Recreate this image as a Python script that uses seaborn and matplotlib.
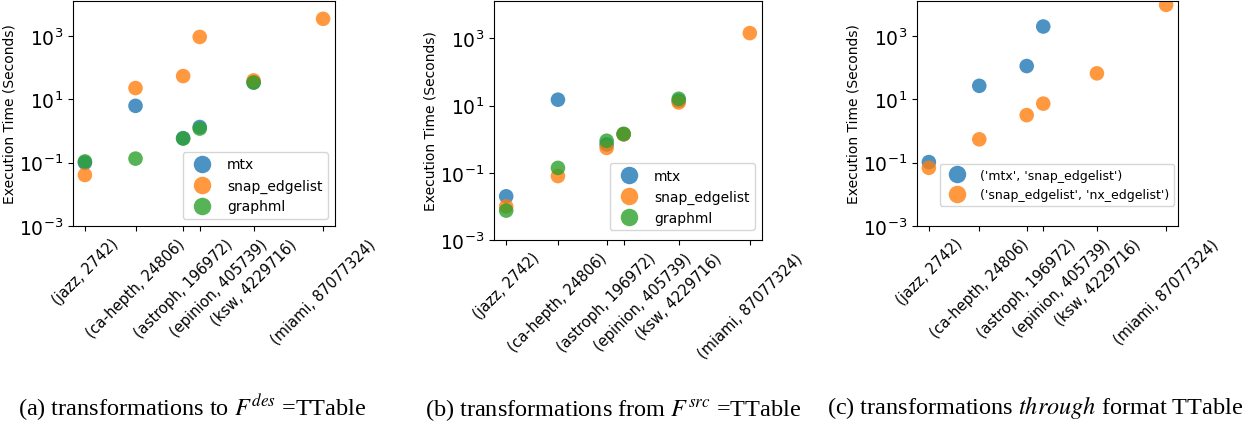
import numpy as np
import matplotlib
matplotlib.use("Agg")
import matplotlib.pyplot as plt
import matplotlib.transforms as mtransforms
from matplotlib.ticker import NullLocator
import seaborn as sns
import pandas as pd

# datasets (name, number of edges) on the x axis
graph_names = ["jazz", "ca-hepth", "astroph", "epinion", "ksw", "miami"]
graph_edges = [2742, 24806, 196972, 405739, 4229716, 87077324]
tick_labels = [f"({n}, {e})" for n, e in zip(graph_names, graph_edges)]

nan = np.nan
# (a) transformations to TTable
a_mtx = [0.10, 6.3, 0.60, 1.35, 35, nan]
a_snap_edgelist = [0.041, 23, 55, 950, 40, 3550]
a_graphml = [0.11, 0.135, 0.58, 1.2, 34, nan]

# (b) transformations from TTable
b_mtx = [0.020, 15, 0.70, 1.4, 14, nan]
b_snap_edgelist = [0.010, 0.080, 0.55, 1.4, 12.4, 1440]
b_graphml = [0.0075, 0.14, 0.90, 1.45, 16, nan]

# (c) transformations through TTable
c_mtx_snap = [0.105, 27, 114, 2030, nan, nan]
c_snap_nx = [0.069, 0.55, 3.2, 7.4, 67, 9800]

c_labels = ["('mtx', 'snap_edgelist')", "('snap_edgelist', 'nx_edgelist')"]


def long_frame(series):
    rows = []
    for label, vals in series.items():
        for e, v in zip(graph_edges, vals):
            rows.append({"edges": e, "time": v, "format": label})
    return pd.DataFrame(rows).dropna()


W, H = 1243, 427
fig = plt.figure(figsize=(W / 100, H / 100), dpi=100)


def add_panel(left, right, top, bottom, series, legend_kw):
    ax = fig.add_axes([left / W, (H - bottom) / H, (right - left) / W, (bottom - top) / H])
    df = long_frame(series)
    sns.scatterplot(data=df, x="edges", y="time", hue="format",
                    hue_order=list(series.keys()), palette="tab10",
                    s=110, alpha=0.8, linewidth=0, ax=ax)
    ax.set_xscale("log")
    ax.set_yscale("log")
    ax.set_ylim(1e-3, 1.3e4)
    ax.set_yticks([1e-3, 1e-1, 1e1, 1e3])
    ax.set_xticks(graph_edges)
    ax.set_xticklabels(tick_labels, rotation=45, fontsize=10.5)
    # epinion label is nudged right so it clears the astroph one
    lab = ax.get_xticklabels()[3]
    lab.set_transform(lab.get_transform() + mtransforms.ScaledTranslation(0.19, 0, fig.dpi_scale_trans))
    ax.xaxis.set_minor_locator(NullLocator())
    ax.yaxis.set_minor_locator(NullLocator())
    ax.tick_params(axis="y", labelsize=13.5)
    ax.set_xlabel("")
    ax.set_ylabel("Execution Time (Seconds)", fontsize=10, labelpad=1.5)
    ax.legend(markerscale=1.2, **legend_kw)
    return ax


add_panel(73, 335, 2, 227,
          {"mtx": a_mtx, "snap_edgelist": a_snap_edgelist, "graphml": a_graphml},
          dict(loc="lower right", fontsize=10))
add_panel(494, 762, 2, 241,
          {"mtx": b_mtx, "snap_edgelist": b_snap_edgelist, "graphml": b_graphml},
          dict(loc="lower right", fontsize=10, bbox_to_anchor=(1.0, 0.012)))
add_panel(917, 1178, 2, 227,
          {c_labels[0]: c_mtx_snap, c_labels[1]: c_snap_nx},
          dict(loc="lower right", fontsize=9, borderaxespad=0, bbox_to_anchor=(0.985, 0.089)))

cap_kw = dict(ha="center", va="center", fontsize=17.5,
              family="Liberation Serif", math_fontfamily="stix")
fig.text(192 / W, 1 - 408 / H, r"(a) transformations to $F^{des}$ =TTable", **cap_kw)
fig.text(613 / W, 1 - 410 / H, r"(b) transformations from $F^{src}$ =TTable", **cap_kw)
fig.text(1035 / W, 1 - 408 / H, r"(c) transformations $\it{through}$ format TTable", **cap_kw)

fig.savefig("out.png", dpi=100)
